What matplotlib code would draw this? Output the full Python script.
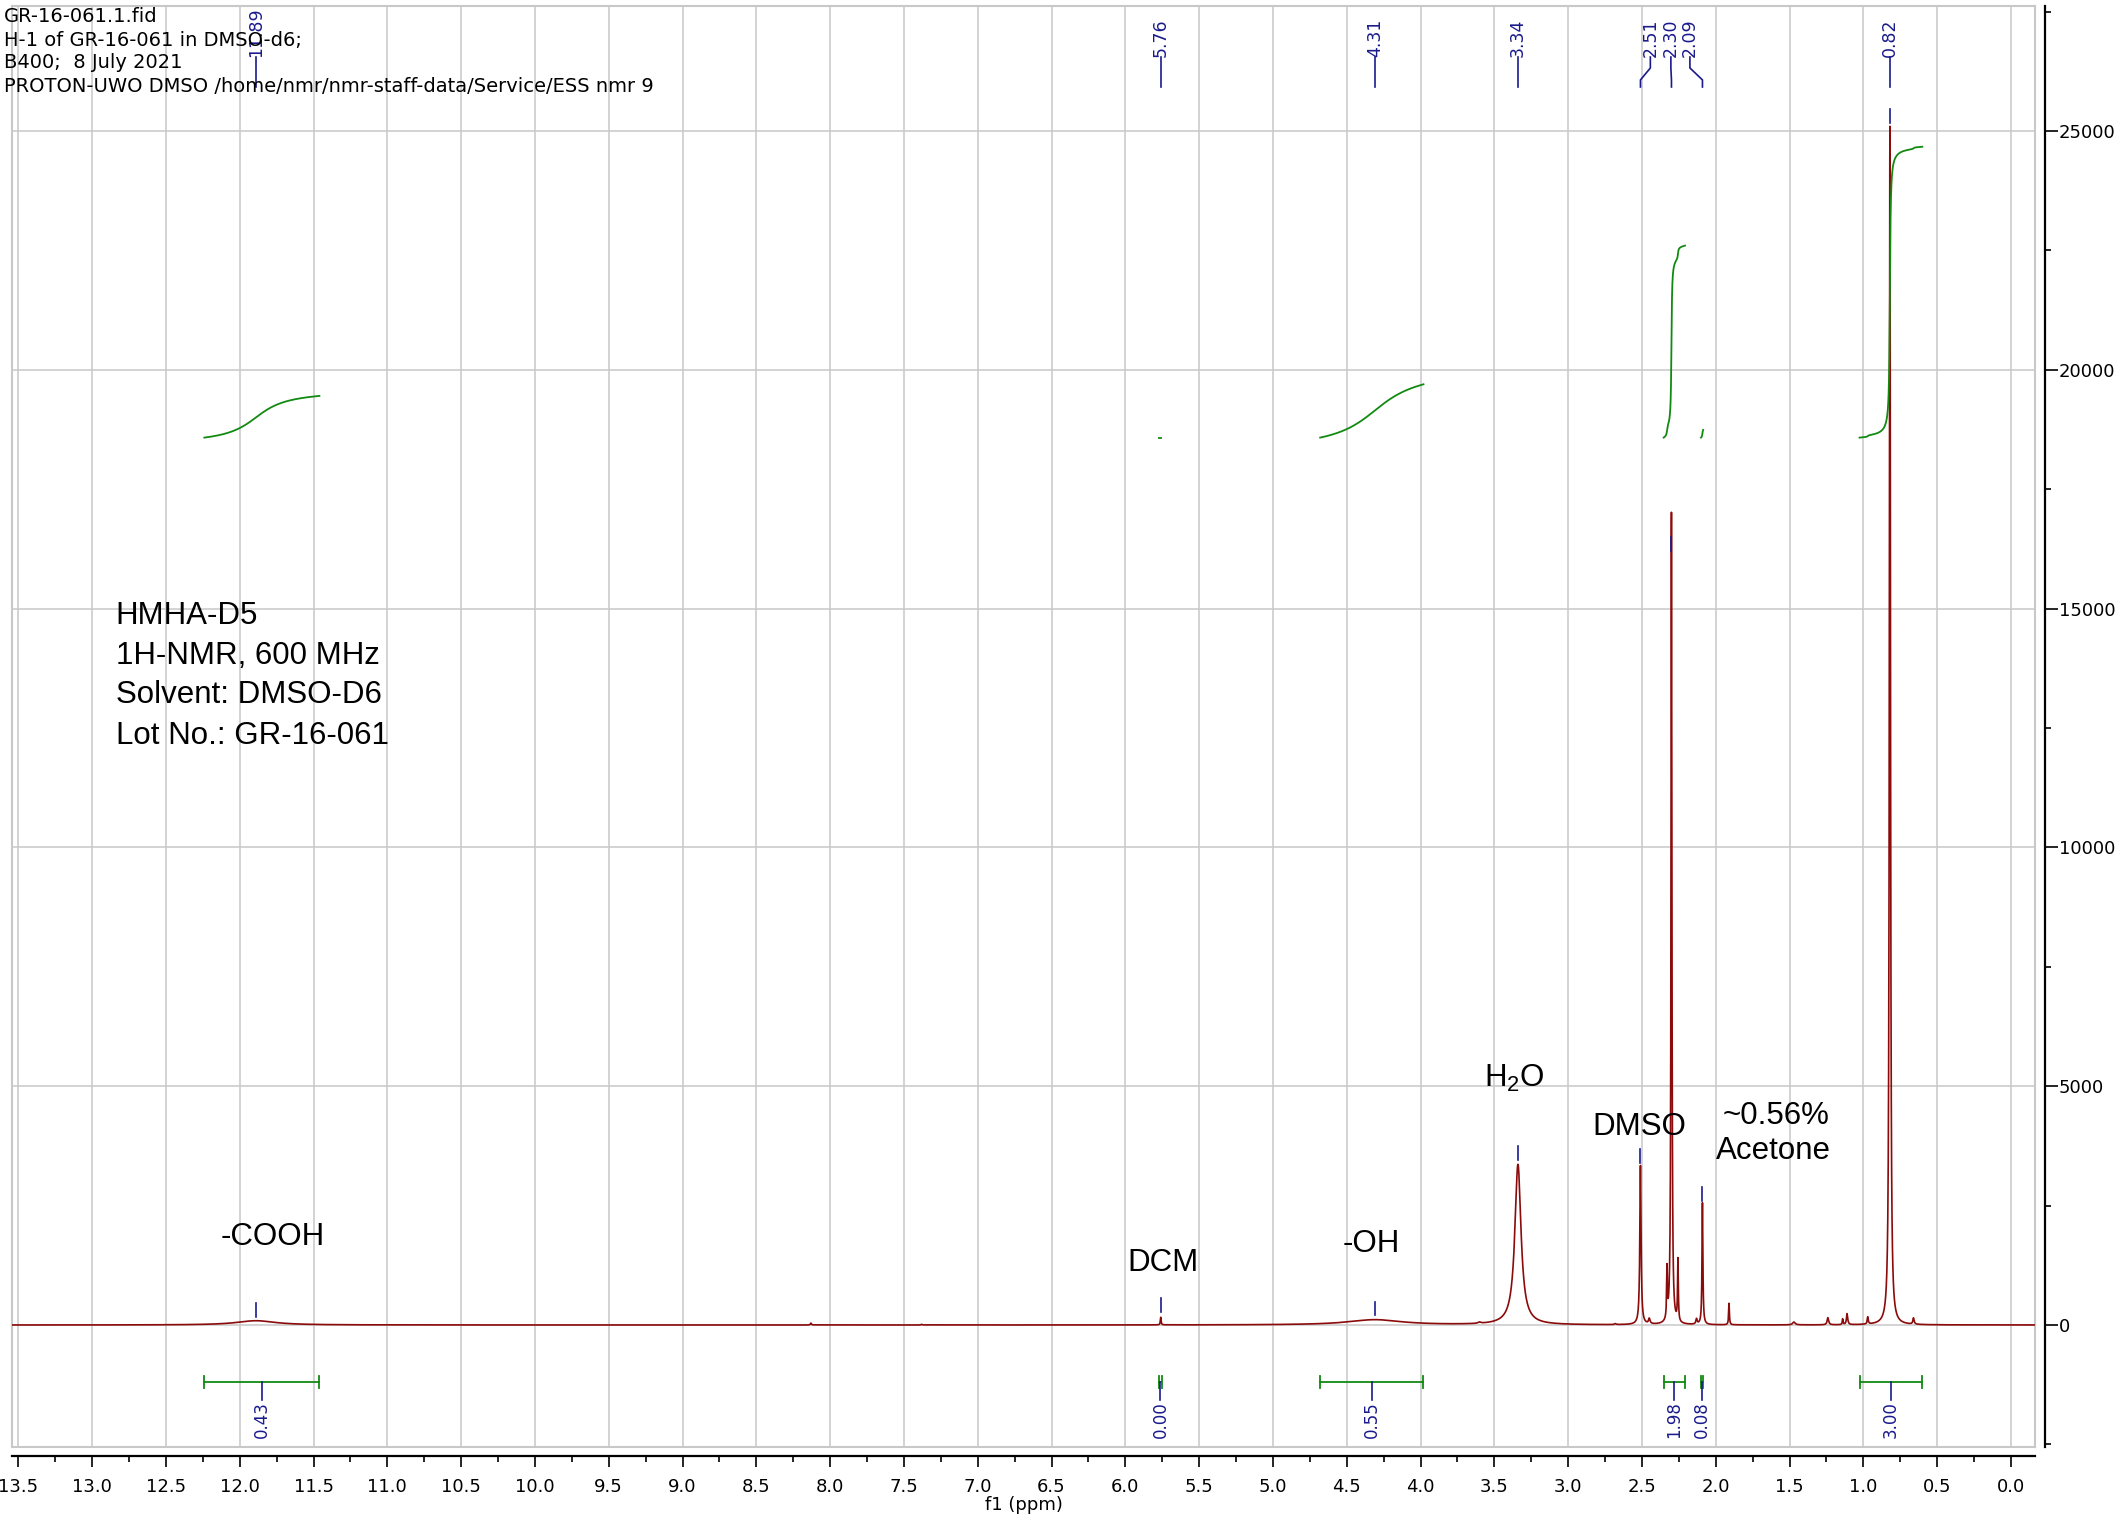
import numpy as np
import matplotlib
matplotlib.use("Agg")
import matplotlib.pyplot as plt
import matplotlib.transforms as mtransforms
from matplotlib.ticker import MultipleLocator, FormatStrFormatter

# header printed in the top left corner
header_lines = ["GR-16-061.1.fid",
                "H-1 of GR-16-061 in DMSO-d6;",
                "B400;  8 July 2021",
                "PROTON-UWO DMSO /home/nmr/nmr-staff-data/Service/ESS nmr 9"]

# peaks: shift (ppm), height, half width (ppm)
peak_ppm = [11.89, 8.13, 7.38, 5.76, 4.31, 3.60, 3.34, 2.68, 2.51, 2.45,
            2.33, 2.30, 2.256, 2.13, 2.09, 1.91, 1.47, 1.24, 1.14, 1.11,
            0.97, 0.82, 0.66]
peak_height = [90, 40, 15, 160, 110, 25, 3360, 20, 3330, 110,
               1050, 17000, 1300, 110, 2550, 450, 60, 150, 120, 230,
               150, 25100, 130]
peak_width = [0.16, 0.004, 0.004, 0.003, 0.22, 0.01, 0.025, 0.005, 0.005, 0.006,
              0.003, 0.0035, 0.003, 0.005, 0.0035, 0.003, 0.01, 0.006, 0.003, 0.005,
              0.004, 0.0045, 0.005]

# picked peaks (labels on top) and where their label sits
label_ppm = [11.89, 5.76, 4.31, 3.34, 2.51, 2.30, 2.09, 0.82]
label_x = [11.89, 5.76, 4.31, 3.34, 2.443, 2.304, 2.175, 0.82]
mark_low = [170, 280, 200, 3450, 3400, 16200, 2600, 25170]

# integral regions
int_hi = [12.24, 5.77, 4.68, 2.353, 2.10, 1.026]
int_lo = [11.46, 5.755, 3.98, 2.208, 2.085, 0.60]
int_val = [0.43, 0.00, 0.55, 1.98, 0.08, 3.00]

blue = "#1a1a8c"
red = "#8b0a0a"
green = "#128a12"
grey = "#c8c8c8"


def main():
    W, H = 2125, 1519
    fig = plt.figure(figsize=(W / 100.0, H / 100.0), dpi=100)

    left, right, top, bottom = 12, 2035, 6, 1447
    pos = [left / W, (H - bottom) / float(H), (right - left) / float(W), (bottom - top) / float(H)]
    xlim = (13.543, -0.163)
    ylim = (-2554, 27617)

    ax = fig.add_axes(pos)
    ax.set_xlim(xlim)
    ax.set_ylim(ylim)
    ax.set_xticks(np.arange(0, 13.51, 0.5))
    ax.set_yticks(np.arange(0, 25001, 5000))
    ax.grid(True, color=grey, lw=1.1)
    ax.set_axisbelow(True)
    ax.tick_params(length=0, labelbottom=False, labelleft=False)
    for s in ax.spines.values():
        s.set_color(grey)
        s.set_linewidth(1.5)

    # spectrum as a sum of lorentzian lines
    x = np.linspace(-0.17, 13.56, 60000)
    spec = np.zeros_like(x)
    for p, h, w in zip(peak_ppm, peak_height, peak_width):
        spec += h / (1.0 + ((x - p) / w) ** 2)
    ax.plot(x, spec, color=red, lw=1.2, zorder=3)

    # integral curves
    base = 18580
    per_unit = 2030
    for hi, lo, val in zip(int_hi, int_lo, int_val):
        m = (x >= lo) & (x <= hi)
        xs = x[m][::-1]
        cs = np.cumsum(spec[m][::-1])
        cs = cs / cs[-1]
        ax.plot(xs, base + cs * val * per_unit, color=green, lw=1.3, zorder=4)

    trans = mtransforms.blended_transform_factory(ax.transData, ax.transAxes)

    # peak picking marks and labels
    for p, lx, lo in zip(label_ppm, label_x, mark_low):
        ax.plot([p, p], [lo, lo + 290], color=blue, lw=1.2, zorder=5)
        ax.text(lx, 0.9646, "%.2f" % p, rotation=90, ha="center", va="bottom",
                transform=trans, color=blue, fontsize=12.5)
        if abs(lx - p) < 1e-6:
            ax.plot([p, p], [0.9646, 0.9438], transform=trans, color=blue, lw=1.2)
        else:
            ax.plot([lx, lx, p, p], [0.9646, 0.957, 0.9487, 0.9438],
                    transform=trans, color=blue, lw=1.2)

    # integral bars at the bottom
    yb, cap = 0.0451, 0.0042
    for hi, lo, val in zip(int_hi, int_lo, int_val):
        mid = (hi + lo) / 2.0
        ax.plot([hi, lo], [yb, yb], transform=trans, color=green, lw=1.3)
        ax.plot([hi, hi], [yb - cap, yb + cap], transform=trans, color=green, lw=1.3)
        ax.plot([lo, lo], [yb - cap, yb + cap], transform=trans, color=green, lw=1.3)
        ax.plot([mid, mid], [yb, 0.0326], transform=trans, color=blue, lw=1.2)
        ax.text(mid, 0.0319, "%.2f" % val, rotation=90, ha="center", va="top",
                transform=trans, color=blue, fontsize=12)

    # annotations
    af = dict(family=["Liberation Sans", "DejaVu Sans"], fontsize=22.5, color="black")
    block = ["HMHA-D5", "1H-NMR, 600 MHz", "Solvent: DMSO-D6", "Lot No.: GR-16-061"]
    block_y = [14836, 14007, 13191, 12333]
    for t, yy in zip(block, block_y):
        ax.text(12.84, yy, t, ha="left", va="center", **af)
    ax.text(11.78, 1843, "-COOH", ha="center", va="center", **af)
    ax.text(5.745, 1298, "DCM", ha="center", va="center", **af)
    ax.text(4.336, 1696, "-OH", ha="center", va="center", **af)
    ax.text(3.367, 5172, r"H$_{\mathregular{2}}$O", ha="center", va="center", **af)
    ax.text(2.52, 4146, "DMSO", ha="center", va="center", **af)
    ax.text(1.592, 4376, "~0.56%", ha="center", va="center", **af)
    ax.text(1.606, 3643, "Acetone", ha="center", va="center", **af)

    # header
    for i, t in enumerate(header_lines):
        fig.text(4.0 / W, 1 - (17 + 23 * i) / float(H), t, ha="left", va="center",
                 fontsize=14, color="black")

    # separate x axis below the frame
    axx = fig.add_axes([pos[0], (H - 1456) / float(H), pos[2], 0.0001], facecolor="none")
    axx.set_xlim(xlim)
    axx.set_yticks([])
    for side in ["top", "left", "right"]:
        axx.spines[side].set_visible(False)
    axx.spines["bottom"].set_linewidth(1.6)
    axx.xaxis.set_major_locator(MultipleLocator(0.5))
    axx.xaxis.set_minor_locator(MultipleLocator(0.25))
    axx.xaxis.set_major_formatter(FormatStrFormatter("%.1f"))
    axx.tick_params(which="major", direction="out", length=8, width=1.2, labelsize=13, pad=8)
    axx.tick_params(which="minor", direction="out", length=4.5, width=1.2)
    axx.set_xlabel("f1 (ppm)", fontsize=13, labelpad=0)

    # intensity axis on the right
    axy = fig.add_axes([2045.0 / W - 0.0001, pos[1], 0.0001, pos[3]], facecolor="none")
    axy.set_ylim(ylim)
    axy.set_xticks([])
    for side in ["top", "left", "bottom"]:
        axy.spines[side].set_visible(False)
    axy.spines["right"].set_linewidth(1.6)
    axy.yaxis.tick_right()
    axy.yaxis.set_major_locator(MultipleLocator(5000))
    axy.yaxis.set_minor_locator(MultipleLocator(2500))
    axy.tick_params(which="major", direction="out", length=9, width=1.2, labelsize=13, pad=1)
    axy.tick_params(which="minor", direction="out", length=4, width=1.2)

    fig.savefig("out.png", dpi=100)


if __name__ == "__main__":
    main()
